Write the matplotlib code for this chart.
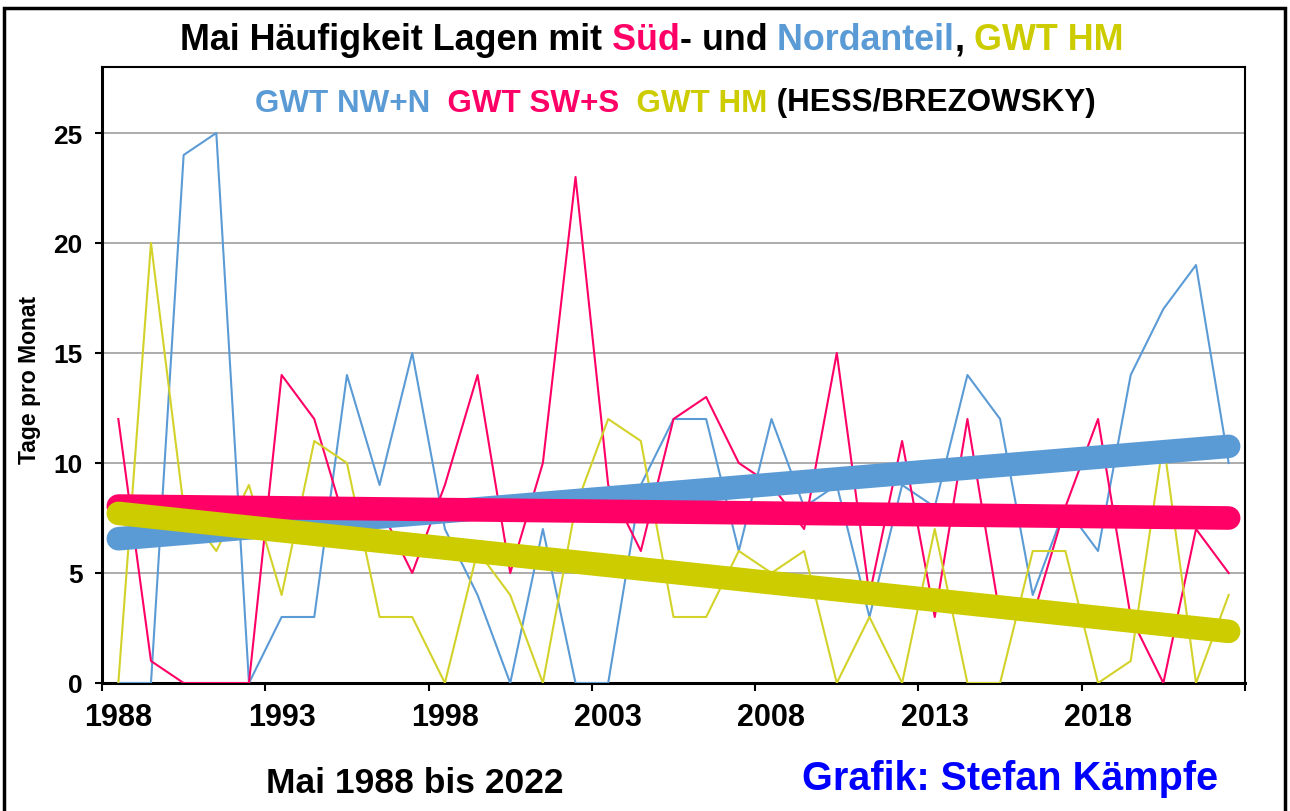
import numpy as np
import matplotlib
matplotlib.use("Agg")
import matplotlib.pyplot as plt
from matplotlib.patches import Rectangle

# Mai, Tage pro Monat (Hess/Brezowsky)
years = list(range(1988, 2023))
nw_n = [0, 0, 24, 25, 0, 3, 3, 14, 9, 15, 7, 4, 0, 7, 0, 0, 9, 12, 12, 6,
        12, 8, 9, 3, 9, 8, 14, 12, 4, 8, 6, 14, 17, 19, 10]
sw_s = [12, 1, 0, 0, 0, 14, 12, 7, 8, 5, 9, 14, 5, 10, 23, 9, 6, 12, 13, 10,
        9, 7, 15, 4, 11, 3, 12, 3, 3, 8, 12, 3, 0, 7, 5]
hm = [0, 20, 8, 6, 9, 4, 11, 10, 3, 3, 0, 6, 4, 0, 8, 12, 11, 3, 3, 6,
      5, 6, 0, 3, 0, 7, 0, 0, 6, 6, 0, 1, 11, 0, 4]
y_ticks = [0, 5, 10, 15, 20, 25]

BLUE = "#5B9BD5"
RED = "#FF0066"
YEL = "#CCCC00"
YEL_THIN = "#D2D22A"

W, H = 1290, 812
plt.rcParams["font.family"] = ["Liberation Sans", "DejaVu Sans"]
plt.rcParams["font.weight"] = "bold"

fig = plt.figure(figsize=(W / 100, H / 100), dpi=100)
ax = fig.add_axes([102 / W, 1 - 684 / H, (1245 - 102) / W, (684 - 68) / H])

x = np.arange(len(years))
ax.plot(x, nw_n, color=BLUE, lw=1.5, zorder=3)
ax.plot(x, sw_s, color=RED, lw=1.5, zorder=3)
ax.plot(x, hm, color=YEL_THIN, lw=1.5, zorder=3)

# lineare Trends
ends = x[[0, -1]]
for vals, col in [(nw_n, BLUE), (sw_s, RED), (hm, YEL)]:
    k, d = np.polyfit(x, vals, 1)
    ax.plot(ends, k * ends + d, color=col, lw=17,
            solid_capstyle="round", zorder=5)

ax.set_xlim(-0.5, len(years) - 0.5)
ax.set_ylim(0, 28)
ax.set_yticks(y_ticks)
ax.yaxis.grid(True, color="#A6A6A6", lw=1.3)
ax.set_axisbelow(True)

# Striche zwischen den Kategorien, Beschriftung auf den Kategorien
ax.set_xticks(np.arange(-0.5, len(years), 5))
ax.set_xticklabels([])
ax.set_xticks(x[::5], labels=[str(y) for y in years[::5]], minor=True)
ax.tick_params(axis="x", which="major", direction="out", length=6, width=1.5)
ax.tick_params(axis="x", which="minor", length=0, labelsize=22, pad=14)
ax.tick_params(axis="y", direction="out", length=5, width=1.5,
               labelsize=19, pad=9)

for side in ["left", "bottom"]:
    ax.spines[side].set_linewidth(2.2)
for side in ["top", "right"]:
    ax.spines[side].set_linewidth(1.5)

fig.text(30 / W, 1 - 380 / H, "Tage pro Monat", rotation=90,
         ha="center", va="center", fontsize=16.5)


def colored_line(parts, cx, base_y, size):
    renderer = fig.canvas.get_renderer()
    texts = [fig.text(0, base_y, s, color=c, fontsize=size, va="baseline")
             for s, c in parts]
    widths = [t.get_window_extent(renderer).width for t in texts]
    pos = cx - sum(widths) / 2
    for t, w in zip(texts, widths):
        t.set_x(pos / W)
        pos += w


colored_line([("Mai Häufigkeit Lagen mit", "black"), (" Süd", RED),
              ("- und", "black"), (" Nordanteil", BLUE), (",", "black"),
              (" GWT HM", YEL)], 652, 1 - 50 / H, 25.8)
colored_line([("GWT NW+N", BLUE), ("  GWT SW+S", RED), ("  GWT HM", YEL),
              (" (HESS/BREZOWSKY)", "black")], 675, 1 - 111.5 / H, 22.6)

fig.text(415 / W, 1 - 793 / H, "Mai 1988 bis 2022", ha="center",
         va="baseline", fontsize=25.5)
fig.text(1010 / W, 1 - 790 / H, "Grafik: Stefan Kämpfe", ha="center",
         va="baseline", fontsize=28.5, color="#0000FF")

fig.patches.append(Rectangle((4 / W, -0.05), (1285 - 4) / W, 1.05 - 9 / H,
                             transform=fig.transFigure, fill=False,
                             lw=2.5, edgecolor="black"))

fig.savefig("out.png", dpi=100)
